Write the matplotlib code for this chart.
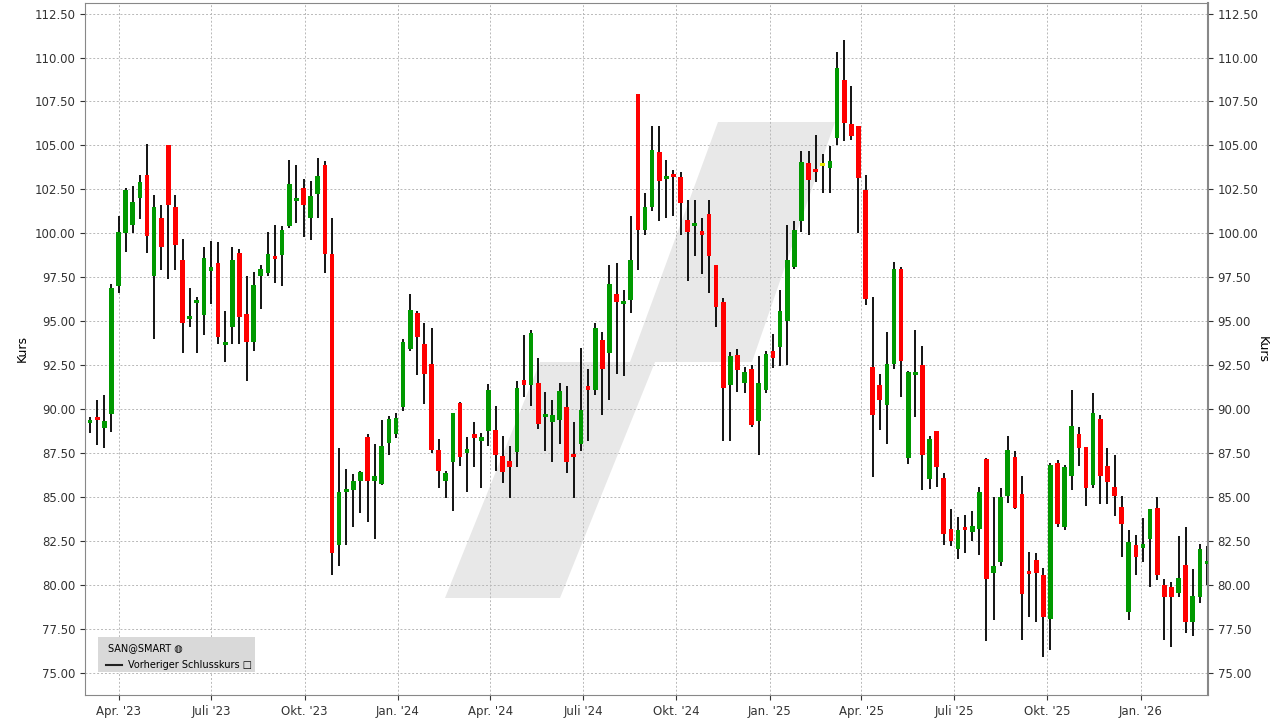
import matplotlib
matplotlib.use("Agg")
import matplotlib.pyplot as plt
import matplotlib.dates as mdates
from matplotlib.patches import Polygon, Rectangle
import pandas as pd
import numpy as np

opens = [89.30,89.50,88.94,89.73,97.0,100.0,100.5,102.0,103.3,97.6,100.85,105.0,101.5,98.5,95.2,96.1,95.35,97.95,98.3,93.7,
94.7,98.9,95.4,93.8,97.6,97.75,98.65,98.75,100.4,101.9,102.6,100.9,102.25,103.9,98.8,82.3,85.35,85.4,85.9,88.4,
85.9,85.75,88.1,88.6,90.1,93.45,95.5,93.7,92.6,87.7,85.9,87.0,90.35,87.6,88.6,88.2,88.75,88.8,87.35,87.05,
87.55,91.65,91.35,91.5,89.6,89.3,89.4,90.1,87.4,88.05,91.3,91.1,93.95,93.2,96.55,96.05,96.2,107.95,100.2,101.5,
104.6,103.15,103.3,103.2,100.75,100.5,100.05,101.1,98.2,96.1,91.4,93.1,91.5,92.3,89.35,91.1,93.3,93.55,95.0,98.1,
100.7,104.0,103.6,103.9,103.7,105.45,108.7,106.2,106.1,102.45,92.4,91.4,90.25,92.55,98.0,87.2,92.0,92.5,86.05,88.75,
86.1,83.2,82.05,83.25,83.0,83.2,87.15,80.7,81.3,85.05,87.3,85.2,80.75,81.4,80.6,78.1,86.95,83.3,86.2,88.6,
87.85,85.7,89.45,86.8,85.6,84.45,78.45,82.3,82.2,82.6,84.4,80.0,79.9,79.55,81.15,77.9,79.35,81.25]
highs = [89.56,90.55,90.8,97.1,101.0,102.6,102.7,103.3,105.1,102.2,101.6,105.0,102.2,99.7,96.9,96.4,99.2,99.55,99.5,95.6,
99.2,99.1,97.6,97.8,98.2,100.1,100.5,100.4,104.2,103.9,103.1,102.95,104.3,104.1,100.9,87.8,86.6,86.3,86.5,88.6,
88.0,89.4,89.6,89.8,94.0,96.55,95.6,94.9,94.6,88.3,86.5,89.8,90.4,88.4,89.25,88.65,91.45,90.2,88.5,87.9,
91.6,94.2,94.5,92.9,91.0,90.5,91.5,91.3,89.3,93.5,92.3,94.9,94.4,98.2,98.3,96.8,101.0,107.95,102.3,106.1,
106.1,104.2,103.6,103.5,101.9,101.9,100.9,101.9,98.2,96.3,93.25,93.4,92.4,92.5,93.0,93.3,94.3,96.8,100.5,100.7,
104.7,104.7,105.6,104.5,104.95,110.3,111.0,108.4,106.1,103.3,96.4,92.0,94.4,98.35,98.1,92.15,94.5,93.6,88.5,88.75,
86.35,84.3,83.9,84.0,84.2,85.6,87.2,85.0,85.5,88.45,87.6,86.2,81.9,81.8,81.0,86.95,87.1,86.85,91.1,89.0,
87.85,90.95,89.7,87.8,87.4,85.05,83.15,82.85,83.8,84.3,85.0,80.35,80.2,82.8,83.3,80.9,82.35,82.25]
lows = [88.66,87.97,87.77,88.7,96.6,98.95,100.0,100.8,98.9,94.0,97.9,97.4,97.9,93.2,94.7,93.2,94.2,96.0,93.7,92.7,
93.7,93.7,91.6,93.3,95.7,97.6,97.2,97.0,100.3,100.6,99.8,99.6,100.85,97.75,80.55,81.1,82.3,83.3,84.1,83.6,
82.6,85.7,87.4,88.35,89.9,93.3,91.95,90.3,87.5,85.5,84.95,84.2,86.8,85.3,86.7,85.5,87.9,86.5,85.8,84.95,
86.7,90.7,90.2,88.9,87.6,87.0,88.0,86.4,84.95,87.6,88.2,90.8,89.7,90.5,92.0,91.9,95.5,97.9,99.9,101.3,
100.7,100.9,101.0,99.9,97.3,98.7,97.7,96.6,94.7,88.2,88.2,91.0,90.9,89.0,87.4,90.9,92.35,92.45,92.5,98.0,
100.1,99.9,102.9,102.3,102.3,105.05,105.25,105.3,100.0,95.9,86.15,88.8,88.0,92.3,90.7,86.9,89.55,85.4,85.45,85.6,
82.3,82.2,81.5,81.8,82.5,81.7,76.8,78.0,81.1,84.65,84.35,76.9,78.2,77.9,75.9,76.3,83.3,83.15,85.4,86.75,
84.5,85.5,84.6,84.6,83.95,81.6,78.0,80.6,81.3,79.9,80.3,76.9,76.5,79.35,77.3,77.1,79.0,80.0]
closes = [89.35,89.45,89.32,96.88,100.1,102.45,101.8,102.9,99.85,101.5,99.2,101.6,99.35,94.9,95.25,96.15,98.6,98.0,94.1,93.75,
98.5,95.25,93.8,97.05,97.95,98.8,98.6,100.2,102.8,101.95,101.6,102.1,103.25,98.8,81.85,85.3,85.4,85.9,86.45,85.9,
86.2,87.9,89.45,89.5,93.85,95.65,94.1,92.0,87.7,86.5,86.4,89.8,87.3,87.65,88.35,88.4,91.1,87.4,86.45,86.7,
91.2,91.4,94.35,89.15,89.65,89.7,91.05,87.0,87.35,89.95,91.1,94.6,92.3,97.1,96.1,96.1,98.5,100.2,101.5,104.75,
103.0,103.2,103.25,101.7,100.1,100.55,100.0,98.7,95.8,91.2,93.0,92.25,92.1,89.1,91.5,93.15,92.9,95.6,98.5,100.2,
104.05,103.05,103.55,103.9,104.1,109.4,106.25,105.55,103.15,96.25,89.7,90.5,92.55,97.95,92.75,92.1,92.05,87.4,88.3,86.7,
82.9,82.5,83.15,83.2,83.35,85.3,80.35,81.1,85.0,87.7,84.4,79.5,80.7,80.7,78.2,86.85,83.45,86.7,89.05,87.8,
85.5,89.8,86.2,85.85,85.05,83.45,82.45,81.6,82.25,84.3,80.6,79.35,79.3,80.4,77.9,79.4,82.05,81.3]
yellow_idx = [103]

dates = pd.date_range("2023-03-04", periods=len(closes), freq="7D")
tick_dates = pd.date_range("2023-04-01", "2026-01-01", freq="QS")
month_names = {1: "Jan.", 4: "Apr.", 7: "Juli", 10: "Okt."}
tick_labels = [f"{month_names[d.month]} '{d.strftime('%y')}" for d in tick_dates]
y_ticks = np.arange(75, 112.51, 2.5)

W, H = 1280, 721
fig = plt.figure(figsize=(12.8, 7.21), dpi=100)
ax = fig.add_axes([85/W, 1-695/H, (1208-85)/W, (695-3)/H])

def px(x, y):
    return (x / W, 1 - y / H)

# watermark (behind candles)
for poly in [[(445,598),(560,598),(655,362),(540,362)], [(630,362),(752,362),(835,122),(718,122)]]:
    ax.add_patch(Polygon([px(x, y) for x, y in poly], closed=True, transform=fig.transFigure,
                         facecolor="#e8e8e8", edgecolor="none", zorder=0.5))

xd = mdates.date2num(dates)
bw = 4.6
for i in range(len(closes)):
    o, h, l, c = opens[i], highs[i], lows[i], closes[i]
    col = "#009900" if c >= o else "#ff0000"
    if i in yellow_idx:
        col = "#e6e600"
    ax.vlines(xd[i], l, h, color="black", lw=1.3, zorder=2)
    bot = min(o, c)
    hgt = max(abs(c - o), 0.18)
    if abs(c - o) < 0.18:
        bot = (o + c) / 2 - 0.09
    ax.add_patch(Rectangle((xd[i] - bw/2, bot), bw, hgt, facecolor=col, edgecolor="none", zorder=3))

ax.set_xlim(mdates.date2num(pd.Timestamp("2023-02-27")), mdates.date2num(pd.Timestamp("2026-03-08")))
ax.set_ylim(73.75, 113.1)
ax.set_xticks(mdates.date2num(tick_dates))
ax.set_xticklabels(tick_labels)
ax.set_yticks(y_ticks)
ax.set_yticklabels([f"{v:.2f}" for v in y_ticks])
ax.tick_params(axis="y", which="both", left=True, right=True, labelleft=True, labelright=True, labelsize=8.5, colors="#333333")
ax.tick_params(axis="x", labelsize=8.5, colors="#333333")
ax.grid(True, color="#b8b8b8", linestyle=(0, (2, 2)), lw=0.7, zorder=1)
ax.set_axisbelow(True)
for s in ax.spines.values():
    s.set_color("#888888")
ax.spines["right"].set_linewidth(1.5)
ax.set_ylabel("Kurs", fontsize=9)
fig.text(1262/W, 1-349/H, "Kurs", fontsize=9, rotation=270, ha="center", va="center")

# legend box
fig.patches.append(Rectangle(px(98, 672), (255-98)/W, (672-637)/H, transform=fig.transFigure,
                             facecolor="#d9d9d9", edgecolor="none", zorder=5))
fig.text(*px(108, 648), "SAN@SMART \u25CD", fontsize=7, va="center", zorder=6)
fig.lines.append(plt.Line2D([106/W, 122/W], [1-665/H, 1-665/H], transform=fig.transFigure, color="#222222", lw=1.5, zorder=6))
fig.text(*px(128, 665), "Vorheriger Schlusskurs \u25A1", fontsize=7, va="center", zorder=6)

fig.savefig("out.png", dpi=100)
